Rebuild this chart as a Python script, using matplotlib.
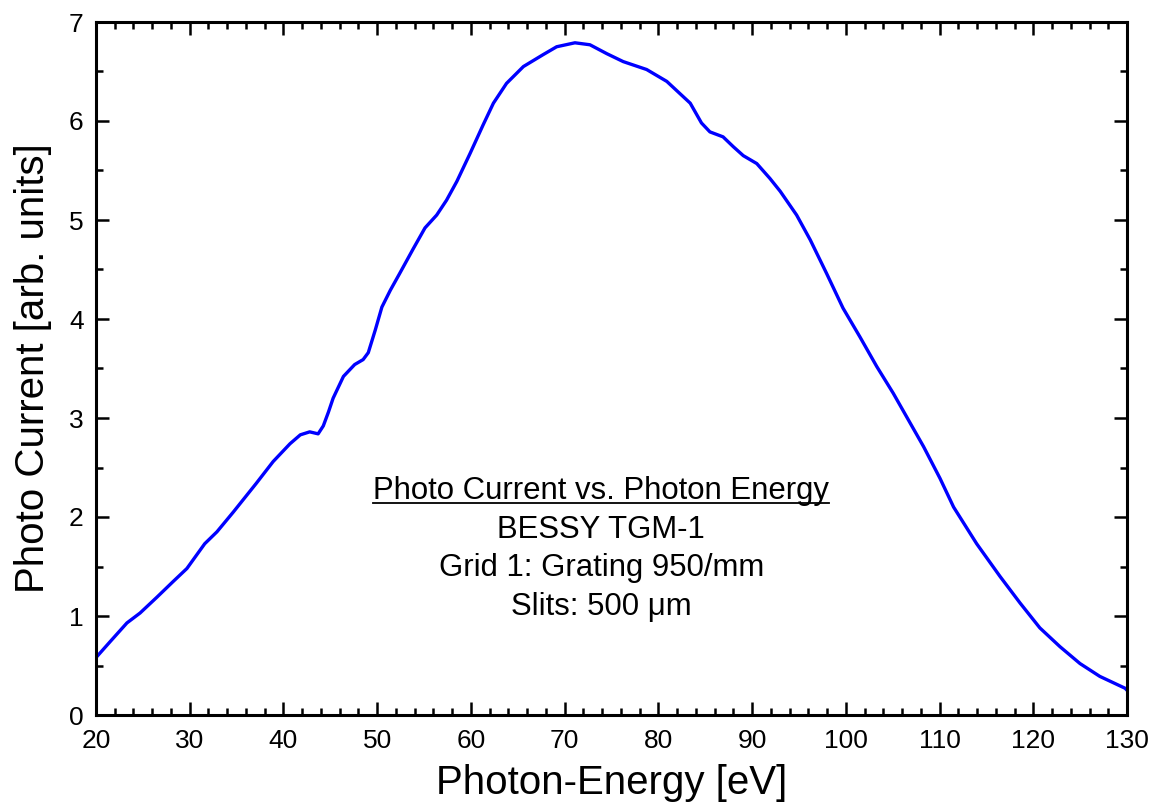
import matplotlib
matplotlib.use("Agg")
import matplotlib.pyplot as plt
from matplotlib.ticker import MultipleLocator
from matplotlib.lines import Line2D

plt.rcParams['font.family'] = ['Liberation Sans', 'DejaVu Sans']

energy = [20.0, 21.5, 23.3, 24.7, 26.5, 28.25, 29.7, 31.6, 32.9, 34.65, 37.1, 38.9,
          40.7, 41.8, 42.8, 43.7, 44.25, 44.8, 45.3, 46.4, 47.6, 48.5, 49.05, 49.8,
          50.5, 51.4, 52.4, 53.85, 55.1, 56.35, 57.4, 58.5, 59.9, 61.3, 62.4, 63.8,
          65.6, 67.7, 69.15, 71.1, 72.7, 74.5, 76.25, 78.75, 80.9, 83.4, 84.6, 85.5,
          86.9, 88.0, 89.06, 90.5, 91.9, 93.0, 94.75, 96.2, 97.95, 99.7, 101.5, 103.3,
          105.06, 106.5, 108.3, 110.05, 111.5, 113.96, 116.45, 118.6, 120.7, 122.85,
          124.98, 127.1, 129.8, 130.0]
current = [0.58, 0.74, 0.93, 1.03, 1.19, 1.35, 1.48, 1.73, 1.85, 2.05, 2.34, 2.56,
           2.74, 2.83, 2.86, 2.84, 2.92, 3.06, 3.20, 3.42, 3.54, 3.59, 3.66, 3.89,
           4.12, 4.29, 4.46, 4.71, 4.92, 5.05, 5.20, 5.39, 5.67, 5.96, 6.18, 6.38,
           6.55, 6.67, 6.75, 6.79, 6.77, 6.68, 6.60, 6.52, 6.40, 6.18, 5.98, 5.89,
           5.84, 5.74, 5.65, 5.57, 5.42, 5.29, 5.05, 4.80, 4.46, 4.11, 3.82, 3.52,
           3.25, 3.01, 2.71, 2.39, 2.10, 1.73, 1.40, 1.13, 0.88, 0.69,
           0.52, 0.39, 0.27, 0.25]

x_ticks = [20, 30, 40, 50, 60, 70, 80, 90, 100, 110, 120, 130]
y_ticks = [0, 1, 2, 3, 4, 5, 6, 7]
annotation = ["Photo Current vs. Photon Energy", "BESSY TGM-1",
              "Grid 1: Grating 950/mm", "Slits: 500 \u03bcm"]

fig = plt.figure(figsize=(11.49, 8.05), dpi=100)
ax = fig.add_axes([96/1149, 90/805, (1127-96)/1149, (715-22)/805])
ax.plot(energy, current, color='#0000FF', lw=2.4, solid_joinstyle='round')
ax.set_xlim(20, 130)
ax.set_ylim(0, 7)
ax.set_xticks(x_ticks)
ax.set_yticks(y_ticks)
ax.xaxis.set_minor_locator(MultipleLocator(2))
ax.yaxis.set_minor_locator(MultipleLocator(0.5))
ax.tick_params(which='both', direction='in', top=True, right=True, width=1.8,
               labelsize=19, color='black')
ax.tick_params(axis='x', which='major', length=9.5, pad=10)
ax.tick_params(axis='y', which='major', length=9.5, pad=9)
ax.tick_params(which='minor', length=5)
for s in ax.spines.values():
    s.set_linewidth(2.2)
ax.set_xlabel("Photon-Energy [eV]", fontsize=29, labelpad=8)
ax.set_ylabel("Photo Current [arb. units]", fontsize=29, labelpad=12)

ys = [2.26, 1.87, 1.48, 1.09]
texts = []
for t, yy in zip(annotation, ys):
    texts.append(ax.text(73.9, yy, t, fontsize=22.4, ha='center', va='center'))

fig.canvas.draw()
r = fig.canvas.get_renderer()
bb = texts[0].get_window_extent(r)
inv = fig.transFigure.inverted()
(x0, y0) = inv.transform((bb.x0, bb.y0 + 3))
(x1, _) = inv.transform((bb.x1, bb.y0 + 3))
fig.add_artist(Line2D([x0, x1], [y0, y0], transform=fig.transFigure, color='black', lw=1.3))

fig.savefig("out.png", dpi=100)
